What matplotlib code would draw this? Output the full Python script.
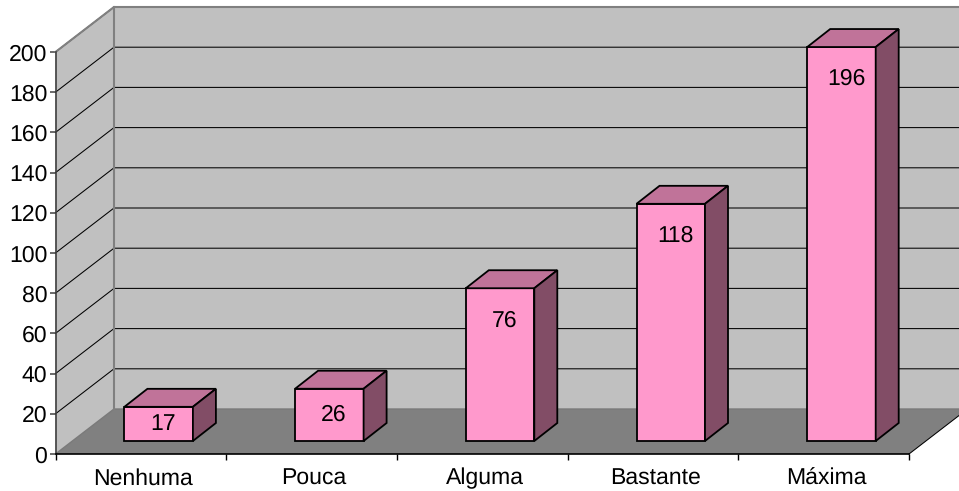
import matplotlib
matplotlib.use('Agg')
import matplotlib.pyplot as plt
from matplotlib.patches import Polygon
from matplotlib.transforms import ScaledTranslation

plt.rcParams['font.family'] = ['Liberation Sans', 'DejaVu Sans']
plt.rcParams['text.hinting'] = 'no_hinting'
plt.rcParams['text.hinting_factor'] = 1

categories = ['Nenhuma', 'Pouca', 'Alguma', 'Bastante', 'Máxima']
values = [17, 26, 76, 118, 196]
y_ticks = [0, 20, 40, 60, 80, 100, 120, 140, 160, 180, 200]

W, H = 959, 491
# front plane of the fake 3d box, in pixels
left, right, y_zero, y_top = 55.5, 909, 454, 52
font_size = 16.9

fig = plt.figure(figsize=(W / 100, H / 100), dpi=100)
ax = fig.add_axes([left / W, 1 - y_zero / H, (right - left) / W, (y_zero - y_top) / H])
ax.set_xlim(-0.5, len(categories) - 0.5)
ax.set_ylim(0, 200)
ax.patch.set_visible(False)

# data units per pixel
px = len(categories) / (right - left)
py = 200 / (y_zero - y_top)
depth_x, depth_y = 58.5 * px, 45 * py
x0, x1 = -0.5, len(categories) - 0.5


def poly(points, face, edge='none', lw=0, z=1):
    ax.add_patch(Polygon(points, closed=True, facecolor=face, edgecolor=edge,
                         linewidth=lw, clip_on=False, joinstyle='miter', zorder=z))


# walls and floor
poly([(x0 + depth_x, depth_y), (x1 + depth_x, depth_y), (x1 + depth_x, 200 + depth_y), (x0 + depth_x, 200 + depth_y)],
     '#c0c0c0', z=1)
poly([(x0, 0), (x0 + depth_x, depth_y), (x0 + depth_x, 200 + depth_y), (x0, 200)], '#c0c0c0', z=1)
poly([(x0, 0), (x1, 0), (x1 + depth_x, depth_y), (x0 + depth_x, depth_y)], '#808080', z=1)

# grid lines, side wall then back wall
for t in y_ticks[1:]:
    ax.plot([x0, x0 + depth_x, x1 + depth_x], [t, t + depth_y, t + depth_y], color='black', lw=0.75,
            clip_on=False, zorder=2, solid_joinstyle='miter')

# wall outlines
ax.plot([x0, x0 + depth_x, x1 + depth_x], [200, 200 + depth_y, 200 + depth_y], color='#808080', lw=1.5,
        clip_on=False, zorder=3)
ax.plot([x0 + depth_x, x0 + depth_x], [depth_y, 200 + depth_y], color='#808080', lw=1.5, clip_on=False, zorder=3)
ax.plot([x0, x0 + depth_x, x1 + depth_x], [0, depth_y, depth_y], color='#7a7a7a', lw=1.0, clip_on=False, zorder=2)
ax.plot([x1, x1 + depth_x], [0, depth_y], color='black', lw=0.75, clip_on=False, zorder=3)

# bars
bar_w = 68.5 * px
bar_dx, bar_dy = 23 * px, 18 * py
off_x, base = 17.8 * px, 13 * py
for i, v in enumerate(values):
    a = i - bar_w / 2 + off_x
    b = a + bar_w
    top = v + base
    poly([(a, base), (b, base), (b, top), (a, top)], '#ff99cc', 'black', 1.3, z=5)
    poly([(a, top), (b, top), (b + bar_dx, top + bar_dy), (a + bar_dx, top + bar_dy)], '#c07399', 'black', 1.3, z=5)
    poly([(b, base), (b + bar_dx, base + bar_dy), (b + bar_dx, top + bar_dy), (b, top)], '#824d66', 'black', 1.3, z=5)
    drop = min(v / 2, 16)
    ax.text((a + b) / 2 + 4.5 * px, top - drop, str(v), ha='center', va='center', fontsize=font_size,
            color='black', zorder=6)

# axes
for s in ['top', 'right']:
    ax.spines[s].set_visible(False)
ax.spines['left'].set_color('#404040')
ax.spines['left'].set_linewidth(1.2)
ax.spines['bottom'].set_color('black')
ax.spines['bottom'].set_linewidth(1.2)
for s in ax.spines.values():
    s.set_zorder(4)

ax.set_yticks(y_ticks)
ax.tick_params(axis='y', length=4, width=1.1, color='#404040', labelsize=font_size, pad=2)
ax.set_xticks([i - 0.5 for i in range(len(categories) + 1)])
ax.set_xticklabels([])
ax.set_xticks(range(len(categories)), categories, minor=True)
ax.tick_params(axis='x', which='major', length=4, width=1, color='black')
ax.tick_params(axis='x', which='minor', length=0, labelsize=font_size, pad=10)

# category labels sit a little right of the slot centre
nudge = ScaledTranslation(2.5 / 100, 0, fig.dpi_scale_trans)
for label in ax.get_xticklabels(minor=True):
    label.set_transform(label.get_transform() + nudge)

fig.savefig('out.png', dpi=100, facecolor='white')
